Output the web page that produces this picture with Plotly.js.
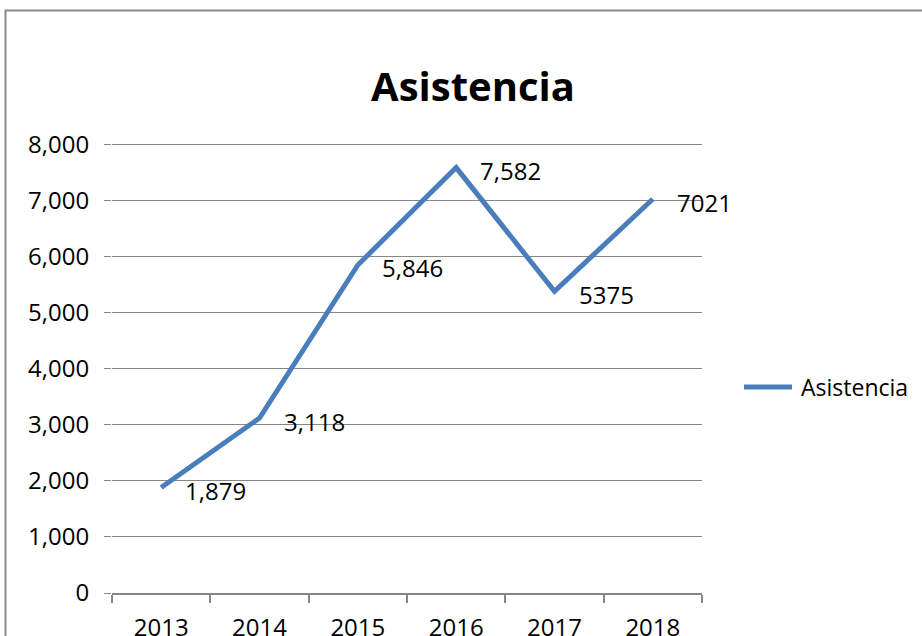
<!DOCTYPE html>
<html>
<head>
<meta charset="utf-8">
<script src="https://cdn.plot.ly/plotly-3.0.1.min.js"></script>
<style>
  html, body { margin: 0; padding: 0; background: #ffffff; }
  #chart { width: 922px; height: 636px; }
</style>
</head>
<body>
<div id="chart"></div>
<script>
// Data
const years = ["2013", "2014", "2015", "2016", "2017", "2018"];
const asistencia = [1879, 3118, 5846, 7582, 5375, 7021];
const dataLabels = ["1,879", "3,118", "5,846", "7,582", "5375", "7021"];
const seriesName = "Asistencia";
const chartTitle = "Asistencia";

const FONT = "Open Sans, Noto Sans, sans-serif";
const GRID = "#868686";
const LINE_COLOR = "#4A7EBB";

// plot area in pixels
const L = 112, R = 702, T = 143, B = 593;
const PW = R - L, PH = B - T;
const px = v => (v - L) / PW;
const py = v => (B - v) / PH;

const trace = {
  type: "scatter",
  mode: "lines",
  x: years,
  y: asistencia,
  name: seriesName,
  line: { color: LINE_COLOR, width: 5 },
  hoverinfo: "x+y",
  showlegend: false
};

const annotations = years.map((yr, i) => ({
  x: i,
  y: asistencia[i],
  xref: "x",
  yref: "y",
  text: dataLabels[i],
  showarrow: false,
  xanchor: "left",
  yanchor: "middle",
  xshift: 22,
  yshift: -3,
  font: { family: FONT, size: 24, color: "#000000" }
}));

// manual legend label
annotations.push({
  x: px(799),
  y: py(387),
  xref: "paper",
  yref: "paper",
  text: seriesName,
  showarrow: false,
  xanchor: "left",
  yanchor: "middle",
  font: { family: FONT, size: 23, color: "#000000" }
});

const layout = {
  width: 922,
  height: 636,
  margin: { l: L, r: 922 - R, t: T, b: 636 - B },
  paper_bgcolor: "#ffffff",
  plot_bgcolor: "#ffffff",
  font: { family: FONT, size: 24, color: "#000000" },
  title: {
    text: "<b>" + chartTitle + "</b>",
    font: { family: FONT, size: 40, color: "#000000" },
    x: 0.513,
    xref: "container",
    xanchor: "center",
    y: 1 - 87 / 636,
    yref: "container",
    yanchor: "middle"
  },
  xaxis: {
    type: "category",
    range: [-0.5, 5.5],
    tickson: "boundaries",
    ticks: "outside",
    ticklen: 8,
    tickcolor: GRID,
    tickwidth: 2,
    showgrid: false,
    showline: true,
    linecolor: GRID,
    linewidth: 2,
    zeroline: false,
    tickfont: { family: FONT, size: 24, color: "#000000" },
    ticklabelstandoff: 12,
    fixedrange: true
  },
  yaxis: {
    range: [0, 8020],
    dtick: 1000,
    tick0: 0,
    tickformat: ",d",
    showgrid: true,
    gridcolor: GRID,
    gridwidth: 1,
    ticks: "outside",
    ticklen: 7,
    tickcolor: GRID,
    tickwidth: 1,
    showline: false,
    zeroline: false,
    tickfont: { family: FONT, size: 24, color: "#000000" },
    ticklabelstandoff: 10,
    fixedrange: true
  },
  showlegend: false,
  annotations: annotations,
  shapes: [
    {
      type: "rect",
      xref: "paper",
      yref: "paper",
      x0: px(5.5),
      x1: px(940),
      y0: py(660),
      y1: py(10.5),
      line: { color: "#8C8C8C", width: 2 },
      fillcolor: "rgba(0,0,0,0)",
      layer: "below"
    },
    {
      type: "line",
      xref: "paper",
      yref: "paper",
      x0: px(744),
      x1: px(792),
      y0: py(387),
      y1: py(387),
      line: { color: LINE_COLOR, width: 5 }
    }
  ]
};

Plotly.newPlot("chart", [trace], layout, { displayModeBar: false, staticPlot: true });
</script>
</body>
</html>
